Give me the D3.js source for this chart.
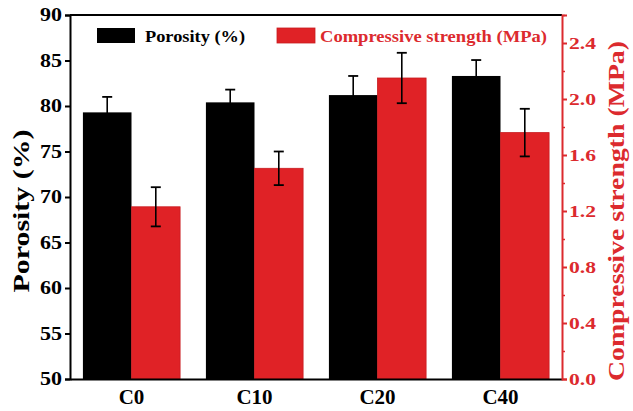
<!DOCTYPE html>
<html><head><meta charset="utf-8">
<script src="https://cdn.jsdelivr.net/npm/d3@7"></script>
<style>body{margin:0;background:#fff}svg{display:block}</style>
</head><body>
<script>
const categories = ["C0","C10","C20","C40"];
const porosity = [79.3, 80.4, 81.2, 83.3];
const porosityErr = [1.7, 1.4, 2.1, 1.75];
const strength = [1.23, 1.505, 2.15, 1.76];
const strengthErr = [0.14, 0.12, 0.18, 0.17];
const leftTicks = [50,55,60,65,70,75,80,85,90];
const rightTicks = [0.0,0.4,0.8,1.2,1.6,2.0,2.4];
const rightMinor = [0.2,0.6,1.0,1.4,1.8,2.2,2.6];
const seriesNames = ["Porosity (%)","Compressive strength (MPa)"];

const W=633,H=411, L=70, R=562, T=15, B=379;
const RED="#e02226", AXRED="#dc2a2e";
const FONT="'Liberation Serif','Times New Roman',serif";
const svg=d3.select("body").append("svg").attr("width",W).attr("height",H);

const x=d3.scaleBand().domain(categories).range([L,R]).paddingInner(0.21).paddingOuter(0.105);
const x1=d3.scaleBand().domain([0,1]).range([0,x.bandwidth()]);
const yL=d3.scaleLinear().domain([50,90]).range([B,T]);
const yR=d3.scaleLinear().domain([0,2.6]).range([B,T]);

// bars
const g=svg.append("g");
categories.forEach((c,i)=>{
  g.append("rect").attr("x",x(c)+x1(0)).attr("y",yL(porosity[i])).attr("width",x1.bandwidth())
   .attr("height",yL(50)-yL(porosity[i])).attr("fill","#000");
  g.append("rect").attr("x",x(c)+x1(1)).attr("y",yR(strength[i])).attr("width",x1.bandwidth())
   .attr("height",yR(0)-yR(strength[i])).attr("fill",RED).attr("stroke","#c81c20").attr("stroke-width",0.8);
});
// error bars
function err(cx,y0,y1){
  g.append("line").attr("x1",cx).attr("x2",cx).attr("y1",y0).attr("y2",y1).attr("stroke","#000").attr("stroke-width",1.6);
  [y0,y1].forEach(yy=>g.append("line").attr("x1",cx-5).attr("x2",cx+5).attr("y1",yy).attr("y2",yy).attr("stroke","#000").attr("stroke-width",1.8));
}
categories.forEach((c,i)=>{
  const cx0=x(c)+x1(0)+x1.bandwidth()/2, cx1=x(c)+x1(1)+x1.bandwidth()/2;
  err(cx0,yL(porosity[i]+porosityErr[i]),yL(porosity[i]-porosityErr[i]));
  err(cx1,yR(strength[i]+strengthErr[i]),yR(strength[i]-strengthErr[i]));
});

// top frame
svg.append("line").attr("x1",L).attr("x2",R).attr("y1",T).attr("y2",T).attr("stroke","#000").attr("stroke-width",2);

// left axis
const ax=svg.append("g").attr("transform",`translate(${L},0)`)
  .call(d3.axisLeft(yL).tickValues(leftTicks).tickSize(5).tickPadding(3).tickFormat(d3.format("d")));
ax.select(".domain").attr("stroke-width",2);
ax.selectAll(".tick line").attr("stroke-width",2);
ax.selectAll("text").attr("font-family",FONT).attr("font-weight","bold").attr("font-size",18)
  .attr("fill","#000").attr("textLength",22).attr("lengthAdjust","spacingAndGlyphs");

// bottom axis
const bx=svg.append("g").attr("transform",`translate(0,${B})`)
  .call(d3.axisBottom(x).tickSize(0).tickPadding(10));
bx.select(".domain").attr("stroke-width",2);
bx.selectAll("text").attr("font-family",FONT).attr("font-weight","bold").attr("font-size",21).attr("fill","#000");

// right axis
const rx=svg.append("g").attr("transform",`translate(${R},0)`)
  .call(d3.axisRight(yR).tickValues(rightTicks).tickSize(5).tickPadding(2).tickFormat(d3.format(".1f")));
rx.select(".domain").attr("stroke",AXRED).attr("stroke-width",2);
rx.selectAll(".tick line").attr("stroke",AXRED).attr("stroke-width",2);
rx.selectAll("text").attr("font-family",FONT).attr("font-weight","bold").attr("font-size",17)
  .attr("fill",AXRED).attr("textLength",27).attr("lengthAdjust","spacingAndGlyphs");
const rm=svg.append("g").attr("transform",`translate(${R},0)`)
  .call(d3.axisRight(yR).tickValues(rightMinor).tickSize(3).tickFormat(""));
rm.select(".domain").remove();
rm.selectAll(".tick line").attr("stroke",AXRED).attr("stroke-width",1.5);

// axis titles
svg.append("text").attr("transform","translate(29,211) rotate(-90)").attr("text-anchor","middle")
  .attr("font-family",FONT).attr("font-weight","bold").attr("font-size",23).attr("fill","#000")
  .attr("textLength",163).attr("lengthAdjust","spacingAndGlyphs").text("Porosity (%)");
svg.append("text").attr("transform","translate(624,211) rotate(-90)").attr("text-anchor","middle")
  .attr("font-family",FONT).attr("font-weight","bold").attr("font-size",24).attr("fill",AXRED)
  .attr("textLength",340).attr("lengthAdjust","spacingAndGlyphs").text("Compressive strength (MPa)");

// legend
const leg=[{x:97,tx:145,tl:100,fill:"#000",tc:"#000"},{x:277,tx:320,tl:227,fill:RED,tc:AXRED}];
leg.forEach((l,i)=>{
  svg.append("rect").attr("x",l.x).attr("y",28).attr("width",38).attr("height",15).attr("fill",l.fill)
    .attr("stroke",i?"#c81c20":"none").attr("stroke-width",0.8);
  svg.append("text").attr("x",l.tx).attr("y",41.5).attr("font-family",FONT).attr("font-weight","bold")
    .attr("font-size",17).attr("fill",l.tc).attr("textLength",l.tl).attr("lengthAdjust","spacingAndGlyphs").text(seriesNames[i]);
});
</script>
</body></html>
